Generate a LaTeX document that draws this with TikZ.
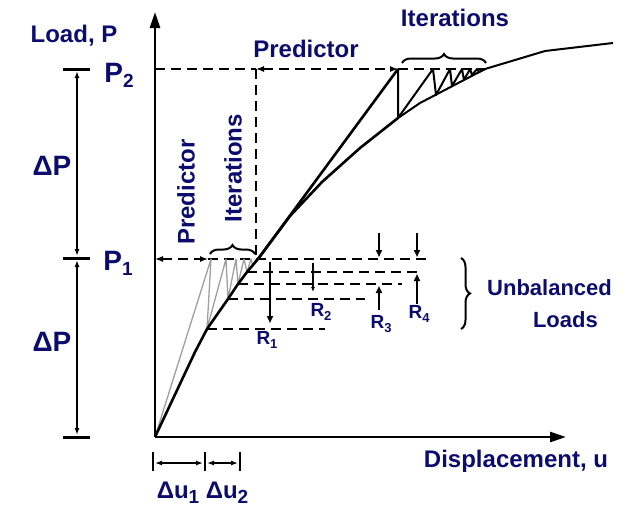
\documentclass[tikz,border=0pt]{standalone}
\usepackage{fontspec}
\setmainfont{Liberation Sans}
\usetikzlibrary{arrows.meta,decorations.pathreplacing}
\definecolor{navy}{RGB}{12,12,110}
\newcommand{\fs}[1]{\fontsize{#1}{#1}\selectfont}
\begin{document}
\begin{tikzpicture}[x=1pt,y=-1pt,
  axis/.style={line width=2.6pt,-{Triangle[length=16pt,width=10pt]}},
  crv/.style={line width=2.6pt,line join=round},
  thin crv/.style={line width=2pt,line join=round},
  gr/.style={gray!75,line width=1.3pt,line join=round},
  dsh/.style={line width=1.3pt,dash pattern=on 10pt off 6pt},
  tickl/.style={line width=3pt},
  dimarr/.style={line width=2.6pt,{Latex[length=7pt,width=5pt]}-{Latex[length=7pt,width=5pt]}},
  smarr/.style={line width=1.3pt,{Latex[length=7pt,width=5pt]}-{Latex[length=7pt,width=5pt]}},
  rarr/.style={line width=2.2pt,-{Triangle[length=7pt,width=6pt]}},
  lbl/.style={text=navy,font=\bfseries\fs{24},inner sep=0pt},
  ulbl/.style={text=navy,font=\bfseries\fs{22},inner sep=0pt},
  plbl/.style={text=navy,font=\bfseries\fs{28},inner sep=0pt},
  rlbl/.style={text=navy,font=\bfseries\fs{19},inner sep=0pt},
  brc/.style={line width=2pt,decorate,decoration={brace,amplitude=9pt}}
]
\useasboundingbox (0,0) rectangle (629,507);
% key coordinates
\coordinate (O) at (155,437);
\coordinate (Ytop) at (155,12);
\coordinate (Xend) at (566,437);
\coordinate (A2) at (155,69);
\coordinate (V2) at (256,69);
\coordinate (T2) at (398,69);
\coordinate (E2) at (485,69);
\coordinate (A1) at (155,259);
\coordinate (F1) at (208,259);
\coordinate (E1) at (430,259);
\coordinate (V1) at (256,259);
% curve points
\coordinate (c1) at (207,329);
\coordinate (c2) at (228,299);
\coordinate (c3) at (238,284);
\coordinate (c4) at (247,272);
\coordinate (P1c) at (258,259);
\coordinate (B2) at (398,118);
% axes
\draw[axis] (O) -- (Ytop);
\draw[axis] (O) -- (Xend);
% left dimension
\coordinate (t2a) at (63,69); \coordinate (t2b) at (90,69);
\coordinate (t1a) at (63,258); \coordinate (t1b) at (90,258);
\coordinate (t0a) at (63,437); \coordinate (t0b) at (90,437);
\draw[tickl] (t2a) -- (t2b);
\draw[tickl] (t1a) -- (t1b);
\draw[tickl] (t0a) -- (t0b);
\coordinate (d2) at (77,71); \coordinate (d1u) at (77,256);
\coordinate (d1d) at (77,260); \coordinate (d0) at (77,435);
\draw[dimarr] (d2) -- (d1u);
\draw[dimarr] (d1d) -- (d0);
% dashed levels
\draw[dsh] (A2) -- (V2);
\draw[dsh,{Latex[length=8pt,width=6pt]}-{Latex[length=8pt,width=6pt]}] (V2) -- (T2);
\draw[dsh] (T2) -- (E2);
\draw[dsh] (V2) -- (V1);
\draw[dsh,{Latex[length=8pt,width=6pt]}-{Latex[length=8pt,width=6pt]}] (A1) -- (F1);
\draw[dsh] (F1) -- (E1);
\coordinate (r1e) at (325,329);
\coordinate (r2e) at (365,299);
\coordinate (r3e) at (402,284);
\coordinate (r4e) at (420,272);
\draw[dsh] (c1) -- (r1e);
\draw[dsh] (c2) -- (r2e);
\draw[dsh] (c3) -- (r3e);
\draw[dsh] (c4) -- (r4e);
% gray first-step iterations
\draw[gr] (O) -- (211,259) -- (c1) -- (226,259) -- (c2) -- (236,259) -- (c3)
  -- (244,259) -- (c4) -- (251,259) -- (253,266) -- (256,259);
% main curve
\draw[crv] (O) -- (195,352) -- (c1) -- (c2) -- (c3) -- (c4) -- (P1c)
  -- (290,216) -- (322,182) -- (360,148) -- (B2);
\draw[thin crv] (B2) -- (420,103) -- (E2) -- (545,51) -- (613,43);
% tangent predictor to P2
\draw[crv] (P1c) -- (T2);
% upper iterations
\draw[thin crv] (T2) -- (B2) -- (433,69) -- (436,95) -- (450,69) -- (452,86)
  -- (462,69) -- (464,80) -- (470,69) -- (472,75) -- (477,69) -- (479,72) -- (E2);
% residual arrows
\coordinate (R1s) at (270,262); \coordinate (R1t) at (270,323);
\draw[rarr] (R1s) -- (R1t);
\coordinate (R2s) at (313,263); \coordinate (R2t) at (313,292);
\draw[line width=1.4pt,-{Latex[length=5pt,width=4pt]}] (R2s) -- (R2t);
\coordinate (R3a) at (379,233); \coordinate (R3b) at (379,257);
\coordinate (R3c) at (379,310); \coordinate (R3d) at (379,286);
\draw[rarr] (R3a) -- (R3b);
\draw[rarr] (R3c) -- (R3d);
\coordinate (R4a) at (417,233); \coordinate (R4b) at (417,257);
\coordinate (R4c) at (417,304); \coordinate (R4d) at (417,274);
\draw[rarr] (R4a) -- (R4b);
\draw[rarr] (R4c) -- (R4d);
% braces
\coordinate (b1a) at (210,254); \coordinate (b1b) at (255,254);
\draw[brc] (b1a) -- (b1b);
\coordinate (b2a) at (402,63); \coordinate (b2b) at (486,63);
\draw[brc] (b2a) -- (b2b);
\coordinate (b3a) at (461,258); \coordinate (b3b) at (461,329);
\draw[brc] (b3a) -- (b3b);
% delta u
\coordinate (u0a) at (153,452); \coordinate (u0b) at (153,471);
\coordinate (u1a) at (205,452); \coordinate (u1b) at (205,471);
\coordinate (u2a) at (240,452); \coordinate (u2b) at (240,471);
\draw[line width=1.6pt] (u0a) -- (u0b);
\draw[line width=1.6pt] (u1a) -- (u1b);
\draw[line width=1.6pt] (u2a) -- (u2b);
\coordinate (ua1) at (155,463); \coordinate (ub1) at (203,463);
\coordinate (ua2) at (207,463); \coordinate (ub2) at (238,463);
\draw[smarr] (ua1) -- (ub1);
\draw[smarr] (ua2) -- (ub2);
% labels
\node[lbl] (load) at (74,36) {Load, P};
\node[plbl] (p2) at (119,75) {P\raisebox{-5pt}{\fs{19}2}};
\node[plbl] (p1) at (118,263) {P\raisebox{-5pt}{\fs{19}1}};
\node[plbl] (dp1) at (52,166) {ΔP};
\node[plbl] (dp2) at (52,342) {ΔP};
\node[lbl] (pred1) at (306,49) {Predictor};
\node[lbl] (iter1) at (455,18) {Iterations};
\node[lbl,rotate=90] (pred2) at (186,192) {Predictor};
\node[lbl,rotate=90] (iter2) at (233,168) {Iterations};
\node[ulbl,anchor=west] (unb) at (487,288) {Unbalanced};
\node[ulbl,anchor=east] (lds) at (598,320) {Loads};
\node[rlbl] (r1) at (267,340) {R\raisebox{-4pt}{\fs{13}1}};
\node[rlbl] (r2) at (321,312) {R\raisebox{-4pt}{\fs{13}2}};
\node[rlbl] (r3) at (381,324) {R\raisebox{-4pt}{\fs{13}3}};
\node[rlbl] (r4) at (419,314) {R\raisebox{-4pt}{\fs{13}4}};
\node[lbl] (disp) at (516,461) {Displacement, u};
\node[lbl] (du1) at (178,493) {Δu\raisebox{-5pt}{\fs{19}1}};
\node[lbl] (du2) at (227,493) {Δu\raisebox{-5pt}{\fs{19}2}};
\end{tikzpicture}
\end{document}
